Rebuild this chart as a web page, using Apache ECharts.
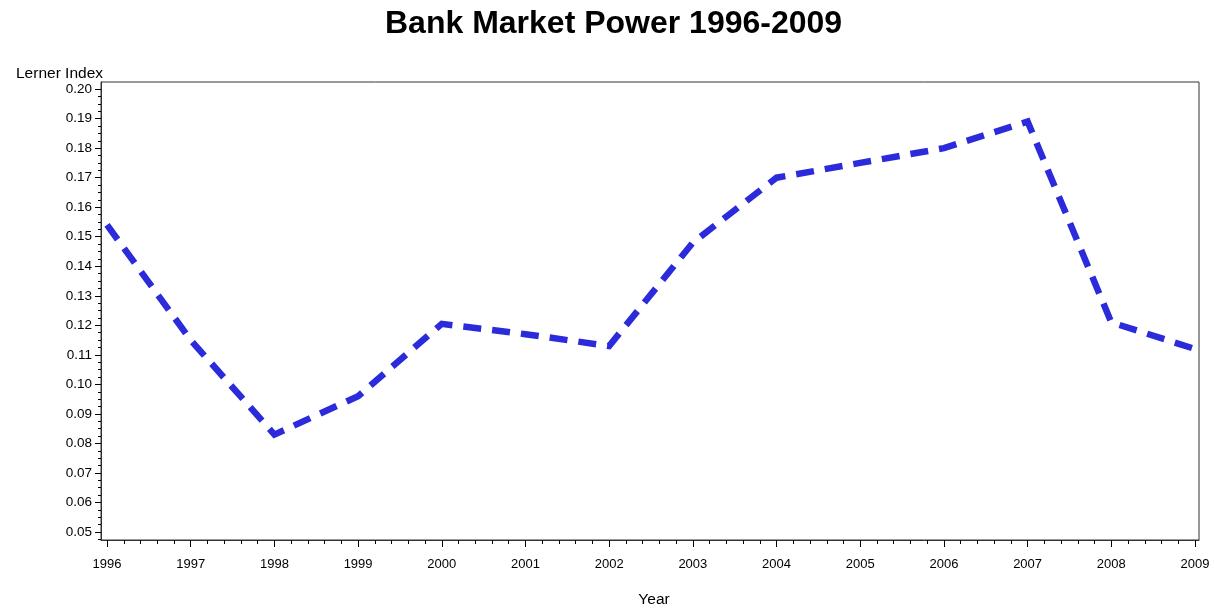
<!DOCTYPE html>
<html>
<head>
<meta charset="utf-8">
<script src="https://cdn.jsdelivr.net/npm/echarts@6/dist/echarts.min.js"></script>
<style>html,body{margin:0;padding:0;background:#fff;}#c{width:1214px;height:608px;}</style>
</head>
<body>
<div id="c"></div>
<script>
const years = [1996,1997,1998,1999,2000,2001,2002,2003,2004,2005,2006,2007,2008,2009];
const lerner = [0.154,0.115,0.083,0.096,0.1205,0.117,0.113,0.148,0.170,0.175,0.180,0.189,0.121,0.112];
const xTicks = [1996,1997,1998,1999,2000,2001,2002,2003,2004,2005,2006,2007,2008,2009];
const yTicks = [0.05,0.06,0.07,0.08,0.09,0.10,0.11,0.12,0.13,0.14,0.15,0.16,0.17,0.18,0.19,0.20];

const xMinor = [];
for (let i = 0; i < xTicks.length - 1; i++) for (let k = 1; k < 5; k++) xMinor.push(xTicks[i] + k * 0.2);
const yMinor = [0.0475];
for (let i = 0; i < yTicks.length - 1; i++) for (let k = 1; k < 4; k++) yMinor.push(+(yTicks[i] + k * 0.0025).toFixed(5));

const font = 'Liberation Sans, Arial, sans-serif';
const chart = echarts.init(document.getElementById('c'));
const xMin = 1995.928, xMax = 2009.048, yMin = 0.0473, yMax = 0.2024;
chart.setOption({
  animation: false,
  backgroundColor: '#fff',
  title: [
    {text: 'Bank Market Power 1996-2009', left: 380, top: 3,
     textStyle: {fontFamily: font, fontSize: 32, fontWeight: 'bold', color: '#000'}},
    {text: 'Lerner Index', left: 11, top: 61,
     textStyle: {fontFamily: font, fontSize: 15.5, fontWeight: 'normal', color: '#000'}}
  ],
  grid: {left: 101, top: 82, right: 15, bottom: 68, show: true, borderColor: '#333', borderWidth: 1,
         containLabel: false, outerBoundsMode: 'none'},
  xAxis: [
    {type: 'value', min: xMin, max: xMax, position: 'bottom',
     name: 'Year', nameLocation: 'middle', nameGap: 52,
     nameTextStyle: {fontFamily: font, fontSize: 15.5, color: '#000', padding: [0, 0, 0, 8]},
     axisLine: {show: true, onZero: false, lineStyle: {color: '#333', width: 1}},
     axisTick: {show: true, customValues: xTicks, length: 7, lineStyle: {color: '#000'}},
     axisLabel: {customValues: xTicks, fontFamily: font, fontSize: 13, color: '#000', margin: 18,
                 formatter: v => String(Math.round(v))},
     splitLine: {show: false}},
    {type: 'value', min: xMin, max: xMax, position: 'bottom',
     axisLine: {show: false, onZero: false},
     axisTick: {show: true, customValues: xMinor, length: 4, lineStyle: {color: '#000'}},
     axisLabel: {show: false}, splitLine: {show: false}}
  ],
  yAxis: [
    {type: 'value', min: yMin, max: yMax, position: 'left',
     axisLine: {show: true, onZero: false, lineStyle: {color: '#333', width: 1}},
     axisTick: {show: true, customValues: yTicks, length: 6, lineStyle: {color: '#000'}},
     axisLabel: {customValues: yTicks, fontFamily: font, fontSize: 13.5, color: '#000', margin: 9,
                 formatter: v => v.toFixed(2)},
     splitLine: {show: false}},
    {type: 'value', min: yMin, max: yMax, position: 'left',
     axisLine: {show: false, onZero: false},
     axisTick: {show: true, customValues: yMinor, length: 3, lineStyle: {color: '#000'}},
     axisLabel: {show: false}, splitLine: {show: false}}
  ],
  series: [{
    type: 'line', xAxisIndex: 0, yAxisIndex: 0,
    data: years.map((y, i) => [y, lerner[i]]),
    showSymbol: false, symbol: 'none',
    lineStyle: {color: '#2b2bdc', width: 6.5, type: [18, 11], cap: 'butt', join: 'miter'}
  }]
});
</script>
</body>
</html>
